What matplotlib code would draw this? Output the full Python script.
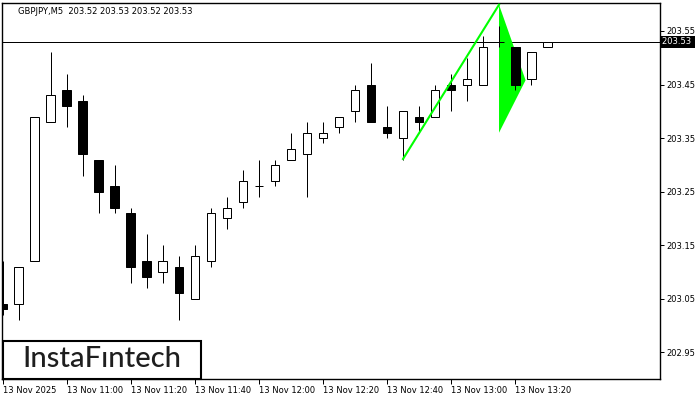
import matplotlib
matplotlib.use("Agg")
import matplotlib.pyplot as plt
from matplotlib.patches import Rectangle, Polygon

# GBPJPY M5 candles
opens = [203.04, 203.04, 203.12, 203.38, 203.44, 203.42, 203.31, 203.26, 203.21, 203.12,
         203.10, 203.11, 203.05, 203.12, 203.20, 203.23, 203.26, 203.27, 203.31, 203.32,
         203.35, 203.37, 203.40, 203.45, 203.37, 203.35, 203.39, 203.39, 203.45, 203.45,
         203.45, 203.53, 203.52, 203.46, 203.52]
highs = [203.12, 203.11, 203.39, 203.51, 203.47, 203.43, 203.31, 203.30, 203.22, 203.17,
         203.15, 203.13, 203.15, 203.22, 203.24, 203.29, 203.31, 203.31, 203.36, 203.38,
         203.38, 203.39, 203.45, 203.49, 203.41, 203.40, 203.41, 203.45, 203.47, 203.50,
         203.54, 203.56, 203.52, 203.51, 203.53]
lows = [203.02, 203.01, 203.12, 203.38, 203.37, 203.28, 203.21, 203.21, 203.08, 203.07,
        203.08, 203.01, 203.05, 203.11, 203.18, 203.22, 203.24, 203.26, 203.31, 203.24,
        203.34, 203.36, 203.38, 203.38, 203.35, 203.31, 203.36, 203.39, 203.40, 203.42,
        203.45, 203.52, 203.44, 203.45, 203.52]
closes = [203.03, 203.11, 203.39, 203.43, 203.41, 203.32, 203.25, 203.22, 203.11, 203.09,
          203.12, 203.06, 203.13, 203.21, 203.22, 203.27, 203.26, 203.30, 203.33, 203.36,
          203.36, 203.39, 203.44, 203.38, 203.36, 203.40, 203.38, 203.44, 203.44, 203.46,
          203.52, 203.53, 203.45, 203.51, 203.53]

last_price = 203.53
y_ticks = [202.95, 203.05, 203.15, 203.25, 203.35, 203.45, 203.55]
x_tick_idx = [0, 4, 8, 12, 16, 20, 24, 28, 32]
x_tick_labels = ["13 Nov 2025", "13 Nov 11:00", "13 Nov 11:20", "13 Nov 11:40", "13 Nov 12:00",
                 "13 Nov 12:20", "13 Nov 12:40", "13 Nov 13:00", "13 Nov 13:20"]

# bullish pennant: pole and flag triangle
pole_x = [25, 31]
pole_y = [203.311, 203.599]
flag_x = [31, 32.66, 31]
flag_y = [203.599, 203.458, 203.360]

fig = plt.figure(figsize=(7, 4), dpi=100)
ax = fig.add_axes([2 / 700, 21 / 400, 658 / 700, 376 / 400])

px = 0.72  # one pixel in points
body_w = 0.56
for i, (o, h, l, c) in enumerate(zip(opens, highs, lows, closes)):
    ax.plot([i, i], [l, h], color="black", lw=px, solid_capstyle="butt", zorder=3)
    face = "white" if c >= o else "black"
    ax.add_patch(Rectangle((i - body_w / 2, min(o, c)), body_w, abs(c - o),
                           facecolor=face, edgecolor="black", lw=px, zorder=3))

# triangle sits under the candles, the pole line over them
ax.add_patch(Polygon(list(zip(flag_x, flag_y)), closed=True, facecolor="#00ff00",
                     edgecolor="none", zorder=2))
ax.plot(pole_x, pole_y, color="#00ff00", lw=1.5, zorder=4)

ax.axhline(last_price, color="black", lw=px, zorder=1)

ax.set_xlim(-0.06, 41.06)
ax.set_ylim(202.9002, 203.6022)

ax.yaxis.tick_right()
ax.set_yticks(y_ticks)
ax.set_yticklabels([f"{v:.2f}" for v in y_ticks])
ax.set_xticks(x_tick_idx)
ax.set_xticklabels(x_tick_labels, ha="left")
ax.tick_params(axis="y", direction="out", length=3, width=px, pad=1.5, labelsize=6)
ax.tick_params(axis="x", direction="out", length=3.5, width=px, pad=1.5, labelsize=6)
for s in ax.spines.values():
    s.set_linewidth(1)

ax.text(1.0025, last_price, "203.53 ", transform=ax.get_yaxis_transform(), fontsize=6,
        color="white", va="center", ha="left",
        bbox=dict(boxstyle="square,pad=0.2", facecolor="black", edgecolor="none"))

fig.text(18 / 700, 1 - 11 / 400, "GBPJPY,M5  203.52 203.53 203.52 203.53",
         fontsize=6, va="center", ha="left")

# logo box
fig.patches.append(Rectangle((3 / 700, 21.5 / 400), 198 / 700, 37.5 / 400,
                             transform=fig.transFigure, facecolor="white",
                             edgecolor="black", lw=1.5, zorder=10))
fig.text(102 / 700, 1 - 359 / 400, "InstaF\u0131ntech", fontsize=21, family="Lato",
         fontweight="medium", color="#1e1e1e", ha="center", va="center", zorder=11)

fig.savefig("out.png", dpi=100)
